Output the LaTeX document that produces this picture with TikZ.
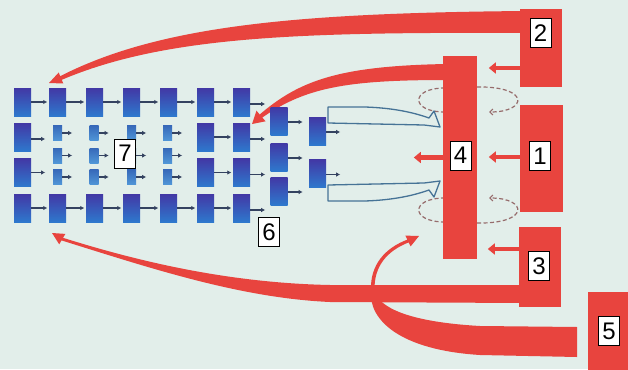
\documentclass[tikz,border=0pt]{standalone}
\usepackage{fontspec}
\setmainfont{Liberation Sans}
\usetikzlibrary{arrows.meta,calc}
\definecolor{bg}{RGB}{226,238,234}
\definecolor{rd}{RGB}{232,68,62}
\definecolor{bdark}{RGB}{66,56,165}
\definecolor{blight}{RGB}{46,120,205}
\definecolor{sdark}{RGB}{55,105,185}
\definecolor{slight}{RGB}{80,150,215}
\definecolor{conn}{RGB}{52,66,96}
\definecolor{wedgec}{RGB}{70,115,150}
\definecolor{dashc}{RGB}{150,108,108}
\begin{document}
\begin{tikzpicture}[x=1pt,y=-1pt,
 bigbox/.style={rectangle,inner sep=0,minimum width=17pt,minimum height=28pt,top color=bdark,bottom color=blight},
 smallbox/.style={rectangle,inner sep=0,minimum width=9pt,minimum height=15pt,top color=sdark,bottom color=slight},
 bflow/.style={conn,line width=1.3pt,-{Latex[length=4pt,width=4.5pt]}},
 redblock/.style={rectangle,fill=rd,draw=none,inner sep=0},
 redarrow/.style={rd,line width=4.5pt,-{Triangle[length=7pt,width=11pt]}},
 numbox/.style={draw=black,line width=0.8pt,fill=white,inner sep=0,minimum width=21pt,minimum height=29pt,font=\fontsize{24}{24}\selectfont},
 dashloop/.style={dashc,line width=1.2pt,dash pattern=on 4pt off 2.5pt},
 wedgeline/.style={draw=wedgec,line width=1.3pt,line join=round}
]
\useasboundingbox (0,0) rectangle (628,369);
\fill[bg] (0,0) rectangle (628,369);

% dashed circulation loops
\draw[dashloop] (445,88) .. controls (410,88) and (410,112) .. (445,112);
\draw[dashloop,-{Straight Barb[length=3pt,width=6pt]}] (477,87) .. controls (530,86) and (528,112) .. (489,112);
\draw[dashloop] (445,198) .. controls (410,198) and (410,222) .. (445,222);
\draw[dashloop,-{Straight Barb[length=3pt,width=6pt]}] (477,223) .. controls (530,224) and (528,198) .. (489,198);

% red bands
% from block 2 (top)
\fill[rd] (525,11) .. controls (300,13) and (160,25) .. (60.2,76.2)
  -- (58.7,72.5) -- (49,83) -- (63.3,83.5) -- (61.8,79.8)
  .. controls (165,36) and (300,32) .. (525,33) -- cycle;
% from block 4
\fill[rd] (446,64) .. controls (340,66) and (300,80) .. (259.7,114.5)
  -- (256.5,110.7) -- (252,124) -- (265.6,121.3) -- (262.3,117.5)
  .. controls (305,88) and (345,80) .. (446,80) -- cycle;
% from block 3 (bottom)
\fill[rd] (525,285) -- (330,285) .. controls (230,283) and (140,262) .. (63,237.8)
  -- (65.4,233.9) -- (52,233) -- (59.2,244.3) -- (61.5,240.4)
  .. controls (150,268) and (240,298) .. (330,302) -- (525,303) -- cycle;
% from block 5
\fill[rd] (577,327) -- (480,326) .. controls (410,322) and (378,308) .. (374.5,290)
  .. controls (374,266) and (387,251) .. (408.6,242.4)
  -- (410.6,246.4) -- (419,236) -- (405.4,235.6) -- (407.4,239.6)
  .. controls (385,248) and (370,265) .. (371,290)
  .. controls (368,320) and (400,350) .. (480,355) -- (577,357) -- cycle;

% red blocks
\node[redblock,minimum width=42pt,minimum height=78pt] (B2) at (541,48) {};
\node[redblock,minimum width=34pt,minimum height=203pt] (B4) at (460,157.5) {};
\node[redblock,minimum width=43pt,minimum height=107pt] (B1) at (541.5,158.5) {};
\node[redblock,minimum width=42pt,minimum height=80pt] (B3) at (540,267) {};
\node[redblock,minimum width=42pt,minimum height=80pt] (B5) at (609,332) {};

% red arrows
\draw[redarrow] ($(B2.west)+(0,20)$) -- ($(B2.west)+(-31,20)$);
\draw[redarrow] ($(B1.west)+(0,-1.5)$) -- ($(B1.west)+(-31,-1.5)$);
\draw[redarrow] ($(B3.west)+(0,-18)$) -- ($(B3.west)+(-31,-18)$);
\draw[redarrow] (B4.west) -- ++(-29,0);

% blue boxes
\foreach \c/\x in {1/22.5,2/57.5,3/94.5,4/131.5,5/168.5,6/205.5,7/241.5}{
  \node[bigbox] (r1c\c) at (\x,102) {};
  \node[bigbox] (r4c\c) at (\x,208) {};
}
\foreach \c/\x in {1/22.5,6/205.5,7/241.5}{
  \node[bigbox] (r2c\c) at (\x,137) {};
  \node[bigbox] (r3c\c) at (\x,172.5) {};
}
\foreach \c/\x in {2/57.5,3/94,4/131.5,5/167.5}{
  \foreach \s/\y in {1/133,2/155.5,3/177}{
    \node[smallbox] (s\c\s) at (\x,\y) {};
    \draw[bflow] (s\c\s.east) -- ++(10,0);
  }
}
\foreach \a/\b in {1/2,2/3,3/4,4/5,5/6,6/7}{
  \draw[bflow,shorten >=1.5pt] (r1c\a) -- (r1c\b);
  \draw[bflow,shorten >=1.5pt] (r4c\a) -- (r4c\b);
}
\draw[bflow] ($(r2c1.east)+(0,2)$) -- ++(14,0);
\draw[bflow] (r3c1.east) -- ++(14,0);
\draw[bflow,shorten >=1.5pt] (r2c6) -- (r2c7);
\draw[bflow,shorten >=1.5pt] (r3c6) -- (r3c7);
\foreach \r in {1,2,3,4}{
  \draw[bflow] ($(r\r c7.east)+(0,2)$) -- ++(15,0);
}
\node[bigbox] (c8a) at (279,121) {};
\node[bigbox] (c8b) at (279,157) {};
\node[bigbox] (c8c) at (279,191) {};
\node[bigbox] (c9a) at (317.5,131) {};
\node[bigbox] (c9b) at (317.5,173.5) {};
\foreach \n in {c8a,c8b,c8c}{\draw[bflow] ($(\n.east)+(0,1)$) -- ++(15,0);}
\foreach \n in {c9a,c9b}{\draw[bflow] ($(\n.east)+(0,1)$) -- ++(14,0);}

% open wedge arrows
\draw[wedgeline] (328,107) -- (365,107) .. controls (395,108) and (415,113) .. (429,118)
  -- (434,111) -- (440,127) -- (424,125) -- (328,123) -- cycle;
\draw[wedgeline] (328,201) -- (365,201) .. controls (395,200) and (415,195) .. (429,190)
  -- (434,197) -- (440,181) -- (424,183) -- (328,185) -- cycle;

% number labels
\node[numbox] (n2) at (540.5,33) {2};
\node[numbox] (n1) at (540,156) {1};
\node[numbox] (n4) at (460.5,155.5) {4};
\node[numbox] (n3) at (539,266) {3};
\node[numbox] (n5) at (609,331) {5};
\node[numbox] (n6) at (269,232) {6};
\node[numbox] (n7) at (125,153.5) {7};
\end{tikzpicture}
\end{document}
